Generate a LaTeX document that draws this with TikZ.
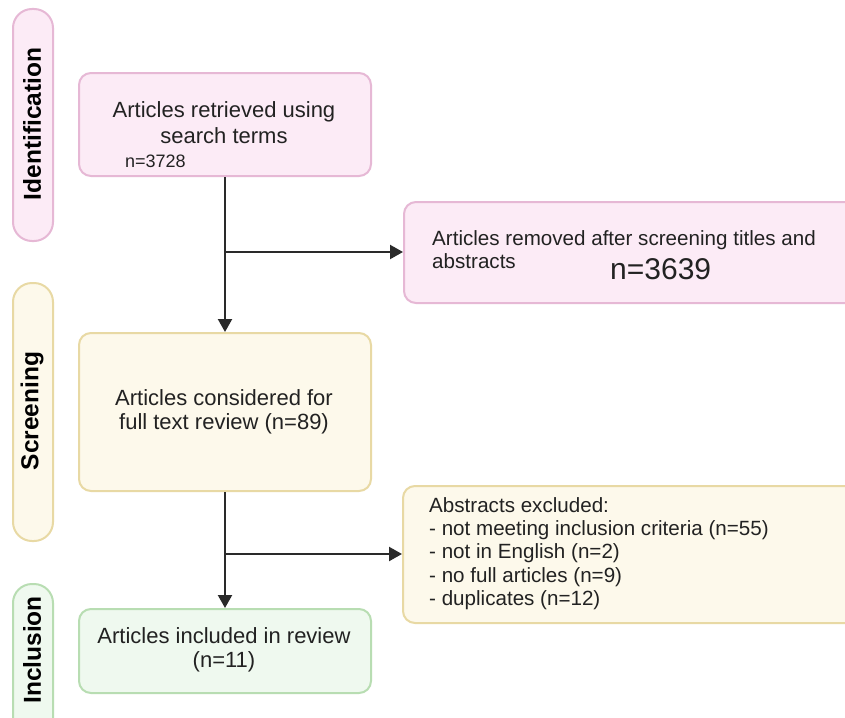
\documentclass[tikz,border=0pt]{standalone}
\usepackage{fontspec}
\setmainfont{Liberation Sans}
\usetikzlibrary{arrows.meta}
\definecolor{pinkF}{HTML}{FCEBF6}
\definecolor{pinkD}{HTML}{E6B8D5}
\definecolor{yelF}{HTML}{FDF9EB}
\definecolor{yelD}{HTML}{E8D9A4}
\definecolor{grnF}{HTML}{EFF9EF}
\definecolor{grnD}{HTML}{B8DDB2}
\definecolor{ink}{HTML}{222222}
\definecolor{arrowc}{HTML}{2A2A2A}
\tikzset{
  boxbase/.style={draw, line width=2pt, rounded corners=12pt, anchor=north west, inner sep=0pt},
  pinkbox/.style={boxbase, fill=pinkF, draw=pinkD},
  yelbox/.style={boxbase, fill=yelF, draw=yelD},
  grnbox/.style={boxbase, fill=grnF, draw=grnD},
  barbase/.style={draw, line width=2pt, rounded corners=19pt, anchor=north west, inner sep=0pt, minimum width=40pt},
  txt/.style={inner sep=0pt, text=ink, font=\fontsize{22}{26}\selectfont},
  txtsm/.style={inner sep=0pt, text=ink, font=\fontsize{20.6}{23.3}\selectfont},
  lab/.style={inner sep=0pt, text=black, rotate=90, font=\bfseries\fontsize{24.5}{28}\selectfont},
  arr/.style={draw=arrowc, line width=2.2pt, -{Triangle[length=13pt,width=14pt]}},
}
\begin{document}
\begin{tikzpicture}[x=1pt,y=-1pt]
\useasboundingbox (0,0) rectangle (845,717);
\fill[white] (0,0) rectangle (845,717);
\clip (0,0) rectangle (845,717);

% stage bars
\node[barbase, fill=pinkF, draw=pinkD, minimum height=232pt] (barI) at (12,8) {};
\node[barbase, fill=yelF, draw=yelD, minimum height=258pt] (barS) at (12,282) {};
\node[barbase, fill=grnF, draw=grnD, minimum height=160pt] (barC) at (12,583) {};
\node[lab] (labI) at (32,124) {Identification};
\node[lab] (labS) at (32,411) {Screening};
\node[lab] (labC) at (32,650) {Inclusion};

% boxes
\node[pinkbox, minimum width=292pt, minimum height=103pt] (b1) at (78,72) {};
\node[pinkbox, minimum width=470pt, minimum height=101pt] (b2) at (403,201) {};
\node[yelbox, minimum width=292pt, minimum height=158pt] (b3) at (78,332) {};
\node[yelbox, minimum width=470pt, minimum height=137pt] (b5) at (402,485) {};
\node[grnbox, minimum width=292pt, minimum height=84pt] (b4) at (78,608) {};

% texts
\node[txt, anchor=base] (t1a) at (224,117) {Articles retrieved using};
\node[txt, anchor=base] (t1b) at (224,143) {search terms};
\node[inner sep=0pt, text=ink, font=\fontsize{18}{20}\selectfont, anchor=base west] (t1c) at (125,167) {n=3728};

\node[txtsm, anchor=base west] (t2a) at (432,245) {Articles removed after screening titles and};
\node[txtsm, anchor=base west] (t2b) at (432,268) {abstracts};
\node[inner sep=0pt, text=ink, font=\fontsize{30}{34}\selectfont, anchor=base west] (t2c) at (610,279) {n=3639};

\node[txt, anchor=base] (t3a) at (224,405) {Articles considered for};
\node[txt, anchor=base] (t3b) at (224,429) {full text review (n=89)};

\node[txtsm, anchor=base west] (t5a) at (429,512) {Abstracts excluded:};
\node[txtsm, anchor=base west] (t5b) at (429,535) {- not meeting inclusion criteria (n=55)};
\node[txtsm, anchor=base west] (t5c) at (429,558) {- not in English (n=2)};
\node[txtsm, anchor=base west] (t5d) at (429,582) {- no full articles (n=9)};
\node[txtsm, anchor=base west] (t5e) at (429,605) {- duplicates (n=12)};

\node[txt, anchor=base] (t4a) at (224,643) {Articles included in review};
\node[txt, anchor=base] (t4b) at (224,667) {(n=11)};

% connectors
\coordinate (j1) at (224,252);
\coordinate (j2) at (224,554);
\draw[arr] (b1.south) -- (b3.north);
\draw[arr] (j1) -- (j1 -| b2.west);
\draw[arr] (b3.south) -- (b4.north);
\draw[arr] (j2) -- (j2 -| b5.west);
\end{tikzpicture}
\end{document}
